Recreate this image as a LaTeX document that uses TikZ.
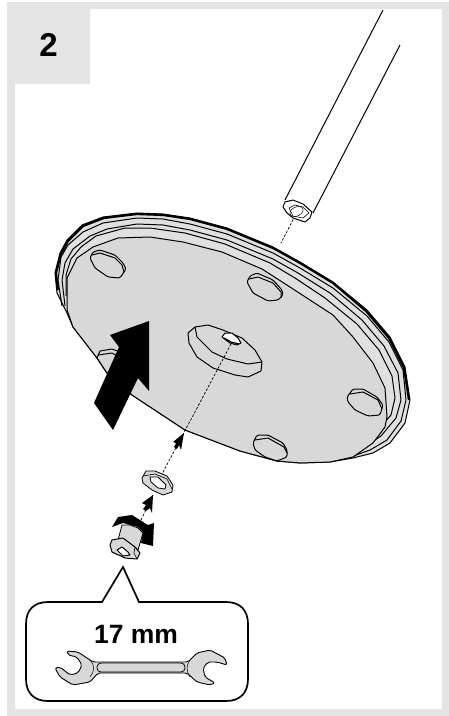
\documentclass[tikz,border=0pt]{standalone}
\usepackage{fontspec}
\setmainfont{Liberation Sans}
\tikzset{
  band/.style={fill=frameGrey, draw=none},
  part/.style={draw=black, line width=1pt, line join=round, fill=partGrey},
  edge/.style={draw=black, line width=1pt, line join=round},
  foot/.style={part, rounded corners=1.5pt},
  axis/.style={draw=black, line width=0.7pt, dash pattern=on 2.6pt off 1.6pt},
  solid black/.style={fill=black, draw=none},
  label/.style={font=\bfseries, inner sep=0pt}
}
\definecolor{frameGrey}{HTML}{E4E4E4}
\definecolor{partGrey}{HTML}{D8D8D8}
\definecolor{ringGrey}{HTML}{E0E0E0}
\begin{document}
\begin{tikzpicture}[x=1pt, y=-1pt]
\useasboundingbox (0,0) rectangle (449,716);
\path[band, even odd rule] (7,2) rectangle (449,716) (90,9) -- (442,9) -- (442,709) -- (15,709) -- (15,84) -- (90,84) -- cycle;
\node[label, font=\bfseries\fontsize{33}{33}\selectfont] (stepNo) at (48.5,45) {2};

\coordinate (tubeHole) at (297,212);
\coordinate (discTop) at (281,243);
\coordinate (boltHole) at (231,344);
\coordinate (washerTop) at (162,474);
\coordinate (washerLow) at (153,495);
\coordinate (nutTop) at (141,520);

\draw[axis] (tubeHole) -- (discTop);

\draw[edge] (383,10) -- (285,200);
\draw[edge] (400,45) -- (313,213);
\draw[part, fill=white] (283,207) -- (285,202) -- (293,200) -- (303,204) -- (312,212) -- (310,218) -- (305,222) -- (293,218) -- (287,213) -- cycle;
\draw[edge, line width=0.6pt] (289,208) -- (295,205) -- (303,207) -- (309,213) -- (303,218) -- (293,216) -- cycle;
\draw[edge, line width=0.5pt] (296.5,211.5) ellipse [x radius=7, y radius=4.5, rotate=25];

\draw[part, fill=ringGrey] (67,313) -- (57,293) -- (55,273) -- (60,253) -- (67,240) -- (82,225) -- (103,217) -- (137,213) -- (163,214) -- (190,218) -- (227,228) -- (273,247) -- (300,262) -- (333,282) -- (367,310) -- (390,337) -- (405,367) -- (410,400) -- (405,423) -- (390,443) -- (373,453) -- (353,458) -- (330,462) -- (300,463) -- (277,461) -- (240,451) -- (185,430) -- (132,395) -- (107,373) -- (97,358) -- (73,327) -- cycle;
\draw[edge, line width=2.2pt] (58,290) -- (56,273) -- (61,254) -- (68,241) -- (83,226) -- (104,218) -- (137,214) -- (163,215) -- (190,219) -- (227,229) -- (273,248) -- (300,263) -- (333,283) -- (366,311) -- (389,338) -- (404,368) -- (409,400);
\draw[edge] (62,306) -- (58,280) -- (61,257) -- (68,245) -- (83,232) -- (103,223) -- (137,218) -- (163,219) -- (190,224) -- (227,234) -- (273,253) -- (300,268) -- (333,288) -- (367,316) -- (389,342) -- (403,370) -- (406,400) -- (401,421) -- (387,440) -- (370,450) -- (345,459);
\draw[edge] (65,306) -- (62,280) -- (65,263) -- (73,249) -- (90,236) -- (107,229) -- (137,224) -- (163,225) -- (190,230) -- (227,240) -- (273,259) -- (298,273) -- (330,293) -- (362,320) -- (384,346) -- (398,373) -- (401,400) -- (396,418) -- (381,436) -- (364,447) -- (345,459);
\draw[edge] (66,296) -- (66,275) -- (71,259) -- (81,247) -- (96,236) -- (125,228) -- (150,228) -- (185,233) -- (225,244) -- (270,263) -- (295,278) -- (325,298) -- (357,324) -- (379,350) -- (392,376) -- (395,398) -- (391,415) -- (376,432) -- (358,447) -- (345,459);
\draw[part] (67,310) -- (67,278) -- (77,258) -- (93,247) -- (118,238) -- (150,237) -- (183,242) -- (222,252) -- (262,269) -- (290,287) -- (333,315) -- (353,337) -- (373,363) -- (385,388) -- (387,417) -- (385,427) -- (373,443) -- (353,457) -- (330,462) -- (300,463) -- (277,461) -- (240,451) -- (185,430) -- (132,395) -- (107,373) -- (97,358) -- (73,327) -- cycle;

\draw[foot] (90,258) -- (93,252) -- (100,250) -- (115,255) -- (123,263) -- (126,269) -- (120,278) -- (108,277) -- (95,268) -- cycle;
\draw[edge] (92,255) -- (100,253) -- (115,258) -- (122,265) -- (124,272);
\draw[foot] (247,282) -- (250,276) -- (257,273) -- (273,280) -- (282,290) -- (283,295) -- (278,300) -- (268,301) -- (253,293) -- cycle;
\draw[edge] (249,279) -- (258,277) -- (273,283) -- (281,292) -- (281,298);
\draw[foot] (347,397) -- (353,389) -- (363,389) -- (377,397) -- (383,405) -- (380,415) -- (368,416) -- (355,410) -- (348,402) -- cycle;
\draw[edge] (350,394) -- (363,392) -- (378,400) -- (382,409);
\draw[foot] (253,443) -- (257,435) -- (268,435) -- (283,443) -- (287,450) -- (287,457) -- (277,461) -- (265,457) -- (255,450) -- cycle;
\draw[edge] (255,440) -- (268,438) -- (284,447) -- (287,453);
\draw[part] (97,358) -- (100,351) -- (112,349) -- (120,352) -- (125,375) -- (107,373) -- cycle;
\draw[edge] (98,355) -- (112,353) -- (119,357);

\draw[part] (188,333) -- (195,327) -- (208,325) -- (223,330) -- (242,338) -- (255,350) -- (262,362) -- (261,371) -- (248,377) -- (235,375) -- (213,368) -- (197,357) -- (189,343) -- cycle;
\draw[edge] (195,327) -- (197,337) -- (212,352) -- (227,359) -- (248,364) -- (262,362);
\draw[axis] (boltHole) -- (washerTop);
\draw[part, fill=white] (222,337) -- (225,333) -- (232,333) -- (238,338) -- (241,343) -- (237,345) -- (230,343) -- cycle;
\draw[edge, line width=1.2pt] (224,338) -- (231,342) -- (239,344);

\path[solid black] (149,321) -- (110,335) -- (119,347) -- (94,403) -- (113,430) -- (138,378) -- (149,391) -- cycle;

\path[solid black] (184,433) -- (181,450) -- (179,445) -- (177,449) -- (174,447) -- (176,443) -- (173,442) -- cycle;

\draw[part, line width=0.8pt] (142,478) -- (146,471) -- (155,471) -- (167,476) -- (173,485) -- (172,492) -- (163,495) -- (152,490) -- (143,483) -- cycle;
\draw[edge, line width=0.6pt] (143,476) -- (155,474) -- (167,479) -- (172,489);
\draw[part, fill=white, line width=0.8pt] (150,477) -- (158,477) -- (166,485) -- (165,489) -- (158,488) -- (151,482) -- cycle;

\draw[axis] (washerLow) -- (nutTop);
\path[solid black] (153,495) -- (152,513) -- (150,508) -- (146,511) -- (143,509) -- (146,505) -- (142,503) -- cycle;

\draw[part, line width=0.8pt] (122,525) -- (118,540) -- (135,547) -- (138,550) -- (143,533) -- (138,528) -- (130,525) -- cycle;
\path[solid black] (112,527) -- (118,517) -- (132,515) -- (148,525) -- (154,523) -- (153,546) -- (141,543) -- (143,532) -- (138,527) -- (123,523) -- cycle;
\draw[part, line width=1pt] (110,545) -- (112,540) -- (123,538) -- (135,547) -- (140,553) -- (137,559) -- (125,558) -- (112,552) -- cycle;
\draw[edge, line width=0.6pt] (135,547) -- (134,553) -- (137,559);
\draw[part, fill=white, line width=1pt] (117,550) -- (122,547) -- (128,552) -- (130,555) -- (123,556) -- cycle;

\draw[line width=1.7pt, line join=miter, fill=white] (102,602) -- (123,567) -- (139,602) -- (226,602) .. controls (240,602) and (248,610) .. (248,624) -- (248,679) .. controls (248,693) and (240,701) .. (226,701) -- (48,701) .. controls (34,701) and (26,693) .. (26,679) -- (26,624) .. controls (26,610) and (34,602) .. (48,602) -- cycle;
\node[label, font=\bfseries\fontsize{26.5}{26.5}\selectfont] (sizeText) at (136,634.5) {17 mm};

\draw[part, line width=0.9pt, rounded corners=2pt] (67,651) -- (78,652) -- (93,662) -- (188,662) -- (197,653) -- (210,650) -- (225,658) -- (227,665) -- (217,662) -- (208,662) -- (203,668) -- (205,677) -- (215,683) -- (210,685) -- (197,682) -- (187,673) -- (98,673) -- (90,682) -- (73,685) -- (60,677) -- (55,668) -- (60,667) -- (70,675) -- (78,673) -- (82,665) -- (77,657) -- (68,655) -- cycle;
\draw[edge, line width=0.5pt] (90,660) .. controls (95,666) and (95,670) .. (90,677);
\draw[edge, line width=0.5pt] (190,660) .. controls (186,666) and (186,670) .. (190,677);
\draw[edge, line width=0.8pt, rounded corners=4pt] (97,663) rectangle (185,672);
\end{tikzpicture}
\end{document}
